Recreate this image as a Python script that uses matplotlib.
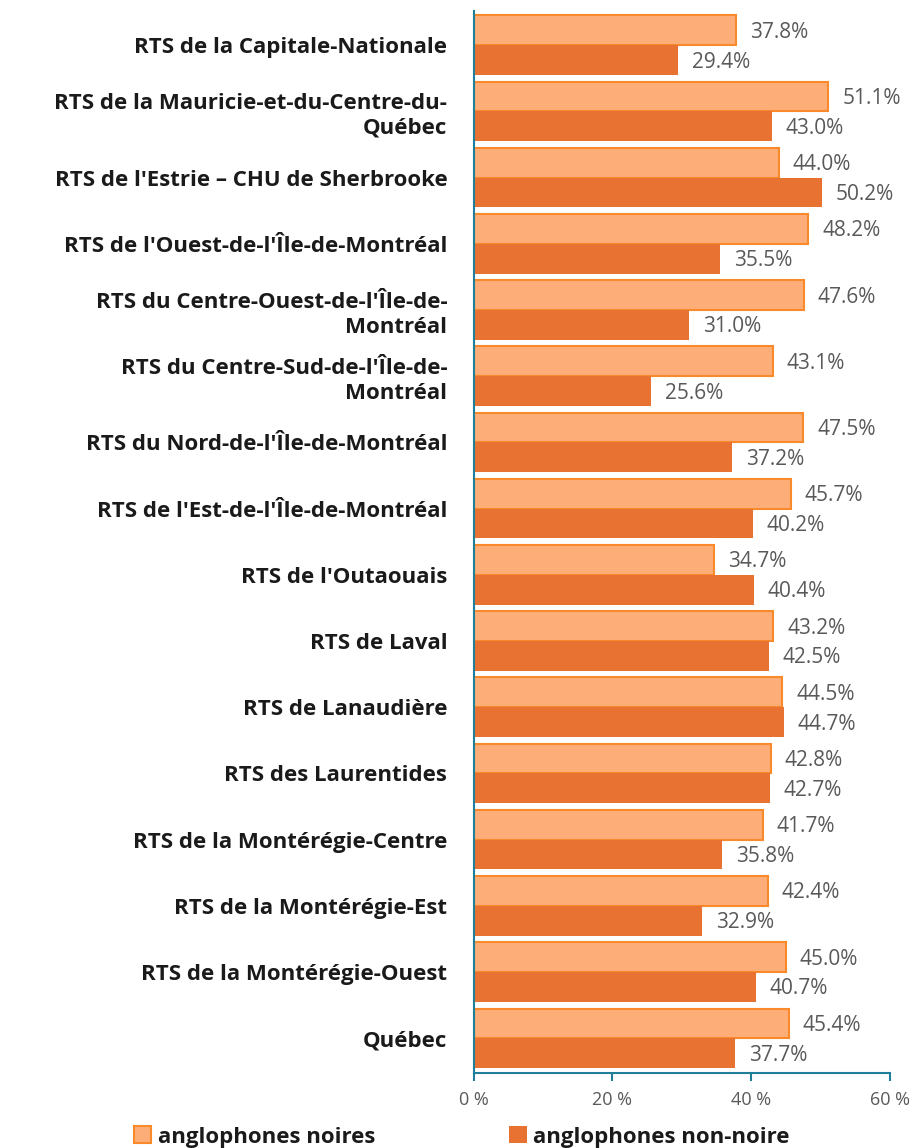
import matplotlib
matplotlib.use("Agg")
import matplotlib.pyplot as plt
import numpy as np

plt.rcParams['font.family'] = ['Open Sans', 'DejaVu Sans']

regions = [
    "RTS de la Capitale-Nationale",
    "RTS de la Mauricie-et-du-Centre-du-\nQuébec",
    "RTS de l'Estrie \u2013 CHU de Sherbrooke",
    "RTS de l'Ouest-de-l'Île-de-Montréal",
    "RTS du Centre-Ouest-de-l'Île-de-\nMontréal",
    "RTS du Centre-Sud-de-l'Île-de-\nMontréal",
    "RTS du Nord-de-l'Île-de-Montréal",
    "RTS de l'Est-de-l'Île-de-Montréal",
    "RTS de l'Outaouais",
    "RTS de Laval",
    "RTS de Lanaudière",
    "RTS des Laurentides",
    "RTS de la Montérégie-Centre",
    "RTS de la Montérégie-Est",
    "RTS de la Montérégie-Ouest",
    "Québec",
]
noires = [37.8, 51.1, 44.0, 48.2, 47.6, 43.1, 47.5, 45.7, 34.7, 43.2, 44.5, 42.8, 41.7, 42.4, 45.0, 45.4]
non_noires = [29.4, 43.0, 50.2, 35.5, 31.0, 25.6, 37.2, 40.2, 40.4, 42.5, 44.7, 42.7, 35.8, 32.9, 40.7, 37.7]

light = '#FDAE78'
light_edge = '#F98A2C'
dark = '#E87232'
axis_col = '#1F7F9A'
label_col = '#595959'

fig = plt.figure(figsize=(9.18, 11.48), dpi=100)
ax = fig.add_axes([0.516, 0.065, 0.4535, 0.925])

y = np.arange(len(regions))
h = 0.45
ax.barh(y - h / 2, noires, height=h, color=light, edgecolor=light_edge, linewidth=1.5,
        label='anglophones noires')
ax.barh(y + h / 2, non_noires, height=h, color=dark, edgecolor=dark, linewidth=0,
        label='anglophones non-noire')

# value labels
for yi, v in zip(y, noires):
    ax.text(v + 2.0, yi - h / 2 + 0.03, f"{v:.1f}%", va='center', ha='left',
            fontsize=15, color=label_col)
for yi, v in zip(y, non_noires):
    ax.text(v + 2.0, yi + h / 2 + 0.03, f"{v:.1f}%", va='center', ha='left',
            fontsize=15, color=label_col)

ax.set_ylim(len(regions) - 0.5 + 0.03, -0.5 - 0.01)
ax.set_xlim(0, 60)
ax.set_yticks(y)
ax.set_yticklabels(regions, fontsize=16, fontweight='bold', color='#1a1a1a', linespacing=1.25)
ax.tick_params(axis='y', length=0, pad=19)
ax.set_xticks([0, 20, 40, 60])
ax.set_xticklabels(["0 %", "20 %", "40 %", "60 %"], fontsize=13, color=label_col)
ax.tick_params(axis='x', length=6, width=1.5, color=axis_col, direction='out', pad=7)

for s in ['top', 'right']:
    ax.spines[s].set_visible(False)
for s in ['left', 'bottom']:
    ax.spines[s].set_color(axis_col)
    ax.spines[s].set_linewidth(1.5)

leg = fig.legend(loc='lower center', bbox_to_anchor=(0.503, -0.017), ncol=2, frameon=False,
                 prop={'weight': 'bold', 'size': 16}, handlelength=0.8, handleheight=0.8,
                 handletextpad=0.3, columnspacing=6.0)
for t in leg.get_texts():
    t.set_color('#1a1a1a')

fig.savefig('out.png', dpi=100)
